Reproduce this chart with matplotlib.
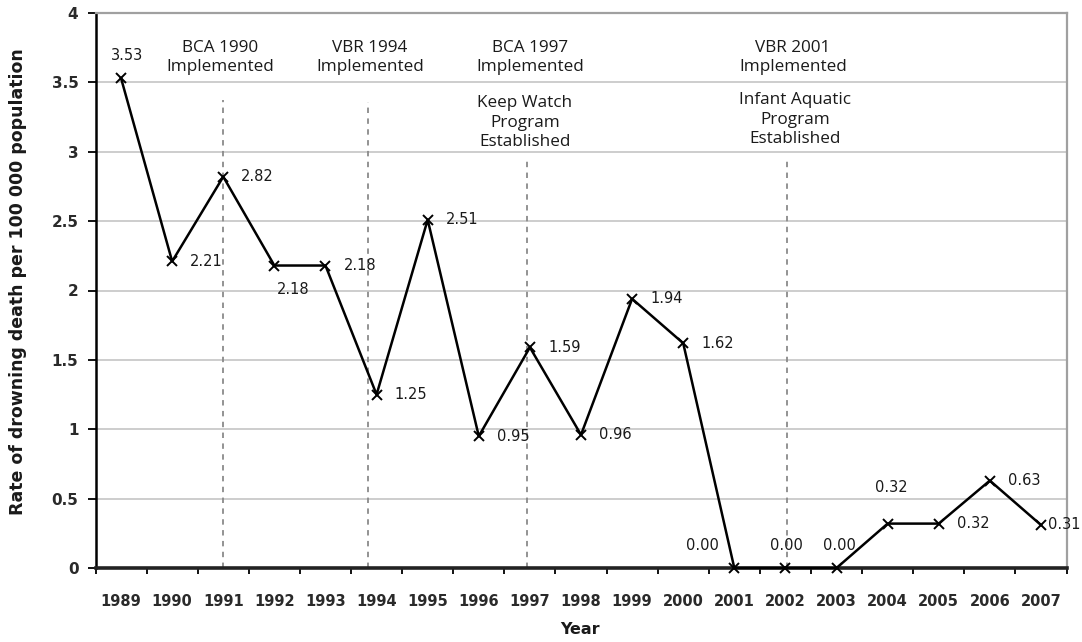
import matplotlib
matplotlib.use("Agg")
import matplotlib.pyplot as plt
from matplotlib.ticker import FixedLocator, FuncFormatter

years = ["1989", "1990", "1991", "1992", "1993", "1994", "1995", "1996", "1997", "1998",
         "1999", "2000", "2001", "2002", "2003", "2004", "2005", "2006", "2007"]
rates = [3.53, 2.21, 2.82, 2.18, 2.18, 1.25, 2.51, 0.95, 1.59, 0.96,
         1.94, 1.62, 0.00, 0.00, 0.00, 0.32, 0.32, 0.63, 0.31]
value_labels = ["3.53", "2.21", "2.82", "2.18", "2.18", "1.25", "2.51", "0.95", "1.59", "0.96",
                "1.94", "1.62", "0.00", "0.00", "0.00", "0.32", "0.32", "0.63", "0.31"]

events = ["BCA 1990\nImplemented", "VBR 1994\nImplemented", "BCA 1997\nImplemented",
          "Keep Watch\nProgram\nEstablished", "VBR 2001\nImplemented",
          "Infant Aquatic\nProgram\nEstablished"]

y_ticks = [0, 0.5, 1, 1.5, 2, 2.5, 3, 3.5, 4]

fig = plt.figure(figsize=(10.82, 6.42), dpi=100)
ax = fig.add_axes([95.5 / 1082, (642 - 568) / 642, (1066.5 - 95.5) / 1082, (568 - 13) / 642])

x = list(range(len(years)))
ax.set_xlim(-0.5, len(years) - 0.5)
ax.set_ylim(0, 4)

# grid
for yv in y_ticks[1:]:
    ax.axhline(yv, color="#cdcdcd", lw=1.4, zorder=0)

# dashed event lines (x position, top)
vlines = [(2.0, 3.37), (4.83, 3.36), (7.95, 2.93), (13.03, 2.95)]
for xv, top in vlines:
    ax.plot([xv, xv], [0, top], color="#8a8a8a", lw=1.3, ls=(0, (3, 3)), zorder=1)

ax.plot(x, rates, color="black", lw=1.8, marker="x", ms=7, mew=1.4, zorder=3, clip_on=False)

# data labels: offsets in points
default_off = (13, 0, "left")
special = {
    0: (4, 16.5, "center"),
    3: (13.7, -17.3, "center"),
    12: (-23, 16, "center"),
    13: (1, 16, "center"),
    14: (2, 16, "center"),
    15: (3, 26, "center"),
    18: (5, 0, "left"),
}
for i, (xv, yv, lab) in enumerate(zip(x, rates, value_labels)):
    dx, dy, ha = special.get(i, default_off)
    ax.annotate(lab, (xv, yv), xytext=(dx, dy), textcoords="offset points",
                ha=ha, va="center", fontsize=10.5, family="DejaVu Sans",
                color="#1a1a1a", annotation_clip=False, zorder=4)

# event annotations (x, y center)
event_pos = [(1.94, 3.68), (4.87, 3.68), (8.0, 3.68), (7.9, 3.21), (13.15, 3.68), (13.19, 3.23)]
for txt, (xv, yv) in zip(events, event_pos):
    ax.text(xv, yv, txt, ha="center", va="center", fontsize=12.3, family="Open Sans",
            color="#1a1a1a", linespacing=1.3, zorder=4)

# axes styling
ax.spines["left"].set_color("black")
ax.spines["left"].set_linewidth(1.8)
ax.spines["bottom"].set_color("#222222")
ax.spines["bottom"].set_linewidth(2.6)
ax.spines["top"].set_color("#a0a0a0")
ax.spines["top"].set_linewidth(1.6)
ax.spines["right"].set_color("#a0a0a0")
ax.spines["right"].set_linewidth(1.6)

ax.yaxis.set_major_locator(FixedLocator(y_ticks))
ax.yaxis.set_major_formatter(FuncFormatter(lambda v, p: f"{v:g}"))
ax.tick_params(axis="y", direction="out", length=5.8, width=1.3, pad=6.5,
               labelsize=11, colors="black")
for t in ax.get_yticklabels():
    t.set_fontweight("bold")
    t.set_family("DejaVu Sans")
    t.set_color("#2a2a2a")

ax.set_xticks(x)
ax.set_xticklabels(years)
ax.set_xticks([i + 0.5 for i in range(-1, len(years))], minor=True)
ax.tick_params(axis="x", which="major", length=0, pad=18.5, labelsize=10.5)
ax.tick_params(axis="x", which="minor", direction="out", length=4, width=1.3)
for t in ax.get_xticklabels():
    t.set_fontweight("bold")
    t.set_family("DejaVu Sans")
    t.set_color("#2a2a2a")

ax.set_ylabel("Rate of drowning death per 100 000 population", fontsize=12.5,
              fontweight="bold", family="DejaVu Sans", color="#1a1a1a")
ax.yaxis.set_label_coords((27 - 95.5) / 971, (568 - 281.5) / 555)
ax.set_xlabel("Year", fontsize=11.5, fontweight="bold", family="DejaVu Sans", color="#1a1a1a")
ax.xaxis.set_label_coords((580 - 95.5) / 971, (568 - 622) / 555)

fig.savefig("out.png", dpi=100)
